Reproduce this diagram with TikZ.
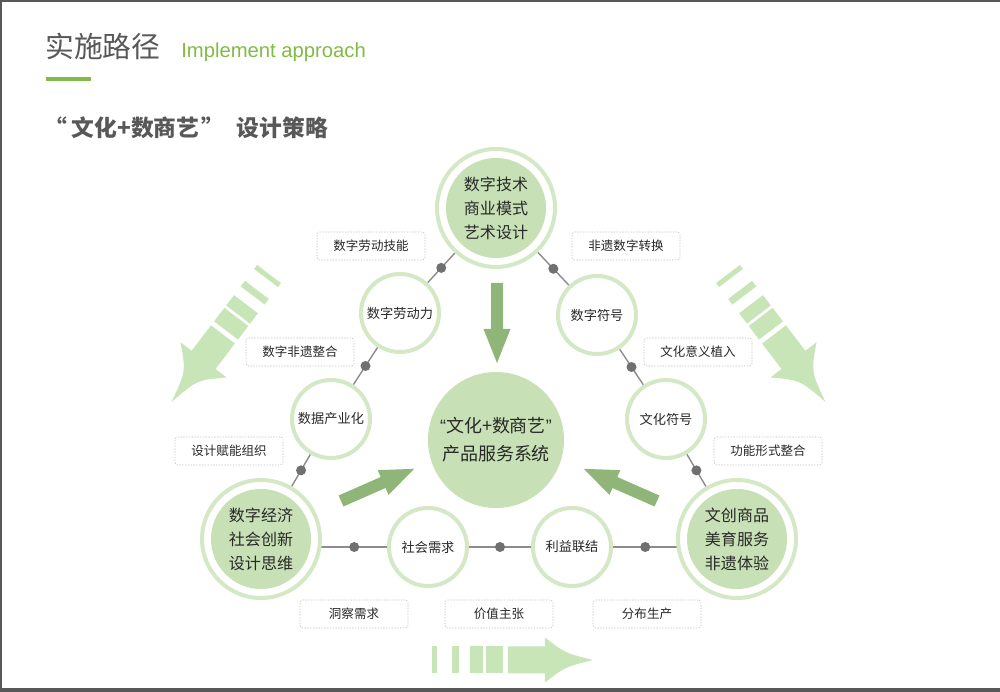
\documentclass[tikz,border=0pt]{standalone}
\usepackage{fontspec}
\setmainfont{Noto Sans CJK SC}
\newfontfamily\latinfont{Liberation Sans}
\usepackage{tikz}
\pgfdeclarelayer{bg}
\pgfsetlayers{bg,main}

\definecolor{ringgreen}{RGB}{212,232,198}
\definecolor{discgreen}{RGB}{199,224,181}
\definecolor{fatgreen}{RGB}{143,181,120}
\definecolor{stripegreen}{RGB}{200,229,183}
\definecolor{titlegreen}{RGB}{130,186,70}
\definecolor{titlegray}{RGB}{88,88,88}
\definecolor{linegray}{RGB}{140,140,140}
\definecolor{dotgray}{RGB}{112,112,112}
\definecolor{boxgray}{RGB}{195,195,195}
\definecolor{inkgray}{RGB}{40,40,40}

\tikzset{
  bigring/.style={circle, draw=ringgreen, line width=0.1cm, fill=white, minimum size=2.95cm, inner sep=0pt},
  bigdisc/.style={circle, fill=discgreen, minimum size=2.5cm, inner sep=0pt, align=center, text=inkgray, font=\fontsize{11.4}{17}\selectfont},
  coredisc/.style={circle, fill=discgreen, minimum size=3.4cm, inner sep=0pt, align=center, text=inkgray, font=\fontsize{12.8}{20}\selectfont},
  ringnode/.style={circle, draw=ringgreen, line width=0.1cm, fill=white, minimum size=1.95cm, inner sep=0pt, text=inkgray, font=\fontsize{9.4}{11}\selectfont},
  tagbox/.style={draw=boxgray, dash pattern=on 1pt off 1pt, rounded corners=2pt, fill=white, minimum width=2.7cm, minimum height=0.7cm, inner sep=0pt, text=inkgray, font=\fontsize{8.9}{10}\selectfont},
  linkline/.style={draw=linegray, line width=1pt},
  joint/.style={circle, fill=dotgray, minimum size=0.25cm, inner sep=0pt},
  stripefill/.style={fill=stripegreen},
  fatfill/.style={fill=fatgreen},
}

% tail, angle, half shaft, half head, head start
\newcommand{\stripearrow}[5]{%
  \begin{scope}[shift={#1}, rotate=#2, x=0.025cm, y=0.025cm]
    \foreach \a/\b in {0/5, 20/27, 38/51, 54/71}
      \fill[stripefill] (\a,-#3) rectangle (\b,#3);
    \fill[stripefill] (76,-#3) -- (#5,-#3) -- (#5,-#4)
      .. controls ({#5+20},-7) .. (161,0) .. controls ({#5+20},7) .. (#5,#4)
      -- (#5,#3) -- (76,#3) -- cycle;
  \end{scope}}

\newcommand{\fatarrow}[2]{%
  \begin{scope}[shift={#1}, rotate=#2, x=0.025cm, y=0.025cm]
    \fill[fatfill] (0,-6) -- (46,-6) -- (46,-13.5) -- (80,0)
      -- (46,13.5) -- (46,6) -- (0,6) -- cycle;
  \end{scope}}

\begin{document}
\begin{tikzpicture}
        \useasboundingbox (0cm, 0cm) rectangle (25cm, 17.3cm);
        \draw[titlegray, line width=0.1cm] (25cm, 17.3cm) -- (0cm, 17.3cm) -- (0cm, 0.05cm) -- (25cm, 0.05cm);
        % title
        \node (t0) [anchor=base west, inner sep=0pt, text=titlegray, font=\fontsize{20.5}{22}\selectfont] at (1.125000cm, 15.850000cm) {实施路径};
        \node (t1) [anchor=base west, inner sep=0pt, text=titlegreen, font=\latinfont\fontsize{14.4}{16}\selectfont] at (4.525000cm, 15.850000cm) {Implement approach};
        \fill[titlegreen] (1.150000cm, 15.275000cm) rectangle (2.275000cm, 15.375000cm);
        \node (t2) [anchor=base west, inner sep=0pt, text=titlegray, font=\bfseries\fontsize{16.2}{17}\selectfont] at (1.100000cm, 13.875000cm) {“\hspace{0.2em}文化+数商艺\hspace{0.1em}”\hspace{0.55em}设计策略};
        % arrows
        \stripearrow{(6.725cm, 10.450cm)}{232.7}{15}{29}{108}
        \stripearrow{(18.200cm, 10.450cm)}{-52.7}{15}{29}{108}
        \stripearrow{(10.800cm, 0.800cm)}{0}{13.5}{22.5}{113}
        \fatarrow{(12.425cm, 10.225cm)}{-90}
        \fatarrow{(8.525cm, 4.775cm)}{23.7}
        \fatarrow{(16.425cm, 4.775cm)}{156.3}
        % circles
        \node (c0) [bigring] at (12.400000cm, 12.100000cm) {};
        \node (d0) [bigdisc] at (c0) {数字技术\\商业模式\\艺术设计};
        \node (c1) [bigring] at (6.525000cm, 3.825000cm) {};
        \node (d1) [bigdisc] at (c1) {数字经济\\社会创新\\设计思维};
        \node (c2) [bigring] at (18.425000cm, 3.825000cm) {};
        \node (d2) [bigdisc] at (c2) {文创商品\\美育服务\\非遗体验};
        \node (c3) [coredisc] at (12.400000cm, 6.300000cm) {{\latinfont “}文化+数商艺{\latinfont ”}\\产品服务系统};
        \node (c4) [ringnode] at (10.000000cm, 9.475000cm) {数字劳动力};
        \node (c5) [ringnode] at (8.275000cm, 6.825000cm) {数据产业化};
        \node (c6) [ringnode] at (14.925000cm, 9.425000cm) {数字符号};
        \node (c7) [ringnode] at (16.650000cm, 6.825000cm) {文化符号};
        \node (c8) [ringnode] at (10.700000cm, 3.625000cm) {社会需求};
        \node (c9) [ringnode] at (14.300000cm, 3.625000cm) {利益联结};
        % labels
        \node (b0) [tagbox] at (9.275000cm, 11.150000cm) {数字劳动技能};
        \node (b1) [tagbox] at (15.650000cm, 11.150000cm) {非遗数字转换};
        \node (b2) [tagbox] at (7.500000cm, 8.500000cm) {数字非遗整合};
        \node (b3) [tagbox] at (17.450000cm, 8.500000cm) {文化意义植入};
        \node (b4) [tagbox] at (5.725000cm, 6.025000cm) {设计赋能组织};
        \node (b5) [tagbox] at (19.200000cm, 6.025000cm) {功能形式整合};
        \node (b6) [tagbox] at (8.850000cm, 1.950000cm) {洞察需求};
        \node (b7) [tagbox] at (12.475000cm, 1.950000cm) {价值主张};
        \node (b8) [tagbox] at (16.175000cm, 1.950000cm) {分布生产};
        \begin{pgfonlayer}{bg}
                \draw (c0) edge [linkline] node [joint, midway] {} (c4);
                \draw (c4) edge [linkline] node [joint, midway] {} (c5);
                \draw (c5) edge [linkline] node [joint, midway] {} (c1);
                \draw (c0) edge [linkline] node [joint, midway] {} (c6);
                \draw (c6) edge [linkline] node [joint, midway] {} (c7);
                \draw (c7) edge [linkline] node [joint, midway] {} (c2);
                \draw (c8) edge [linkline] node [joint, pos=0.26] {} (c8 -| c1);
                \draw (c8) edge [linkline] node [joint, midway] {} (c9);
                \draw (c9) edge [linkline] node [joint, pos=0.26] {} (c9 -| c2);
        \end{pgfonlayer}
\end{tikzpicture}
\end{document}
